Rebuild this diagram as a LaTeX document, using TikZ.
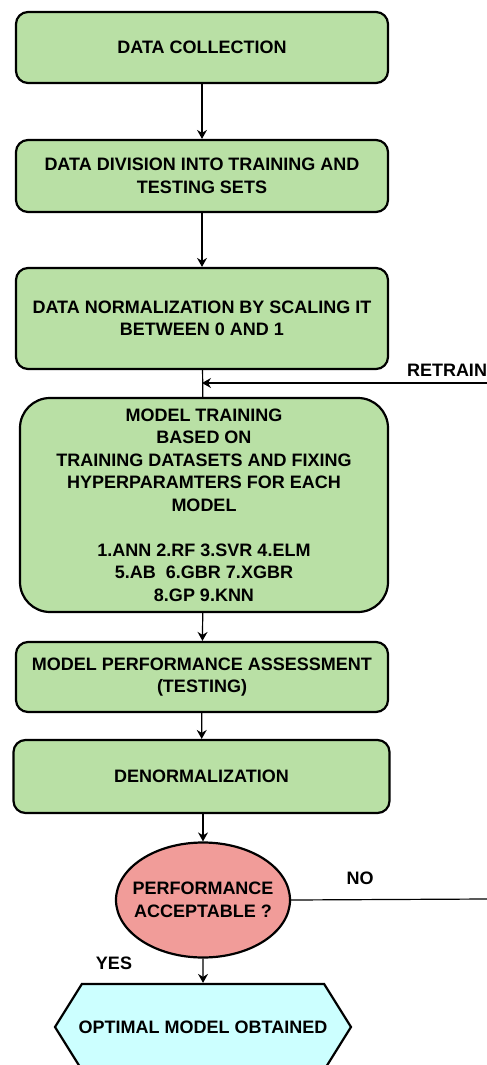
\documentclass[tikz,border=0pt]{standalone}
\usepackage{fontspec}
\setmainfont{Liberation Sans}
\usetikzlibrary{arrows.meta, shapes.geometric, shapes.symbols}
\usepackage{xcolor}

\definecolor{stepgreen}{HTML}{B9E0A5}
\definecolor{checkred}{HTML}{F19C99}
\definecolor{endcyan}{HTML}{CCFFFF}

\tikzset{
	stagebox/.style={draw, line width=1.1pt, fill=stepgreen, rounded corners=6pt,
		minimum width=186pt, align=center, inner sep=2pt,
		font=\fontsize{9}{11.25}\selectfont\bfseries},
	flow/.style={line width=0.6pt, -{Stealth[length=4.5pt, width=5pt, inset=1.5pt]}},
	tag/.style={font=\fontsize{9}{11.25}\selectfont\bfseries},
}

\begin{document}
\begin{tikzpicture}[x=0.5pt, y=-0.5pt]
	\clip (0,0) rectangle (487,1065);
	\node[stagebox, minimum height=35.5pt] (collect) at (202,47.5) {DATA COLLECTION};
	\node[stagebox, minimum height=36pt] (divide) at (202,176) {DATA DIVISION INTO TRAINING AND\\TESTING SETS};
	\node[stagebox, minimum height=50.5pt] (norm) at (202,318.5) {DATA NORMALIZATION BY SCALING IT\\BETWEEN 0 AND 1};
	\node[stagebox, minimum width=184pt, minimum height=107pt, rounded corners=15pt] (train) at (204,505)
		{MODEL TRAINING\\BASED ON\\TRAINING DATASETS AND FIXING\\HYPERPARAMTERS FOR EACH\\MODEL\\[11.25pt]
		1.ANN 2.RF 3.SVR 4.ELM\\5.AB \ 6.GBR 7.XGBR\\8.GP 9.KNN};
	\node[stagebox, minimum height=35pt] (assess) at (202,677) {MODEL PERFORMANCE ASSESSMENT\\(TESTING)};
	\node[stagebox, minimum width=188pt, minimum height=36.5pt] (denorm) at (201.5,776.5) {DENORMALIZATION};
	\node[ellipse, draw, line width=1.1pt, fill=checkred, minimum width=87pt, minimum height=57.5pt,
		inner xsep=-5pt, inner ysep=0pt, align=center, tag] (check) at (203,900) {PERFORMANCE\\ACCEPTABLE ?};
	\node[signal, signal to=west and east, signal pointer angle=116, draw, line width=1.1pt, fill=endcyan,
		minimum width=148pt, minimum height=43pt, inner xsep=-2pt, inner ysep=0pt, tag] (optimal) at (203,1027) {OPTIMAL MODEL OBTAINED};
	% loop back
	\coordinate (rin) at (487,383);
	\coordinate (nout) at (487,899);
	\node[tag] (retrain) at (447,370) {RETRAIN};
	\node[tag] (no) at (360,878) {NO};
	\node[tag] (yes) at (114,963) {YES};
	\draw[flow] (collect) -- (divide);
	\draw[flow] (divide) -- (norm);
	\draw[line width=0.6pt] (norm) -- (train);
	\draw[flow] (rin) -- (rin -| norm.south);
	\draw[flow] (train) -- (assess);
	\draw[flow] (assess) -- (denorm);
	\draw[flow] (denorm.south -| check.north) -- (check);
	\draw[flow] (check) -- (optimal);
	\draw[line width=0.6pt] (check.east) -- (nout);
\end{tikzpicture}
\end{document}
